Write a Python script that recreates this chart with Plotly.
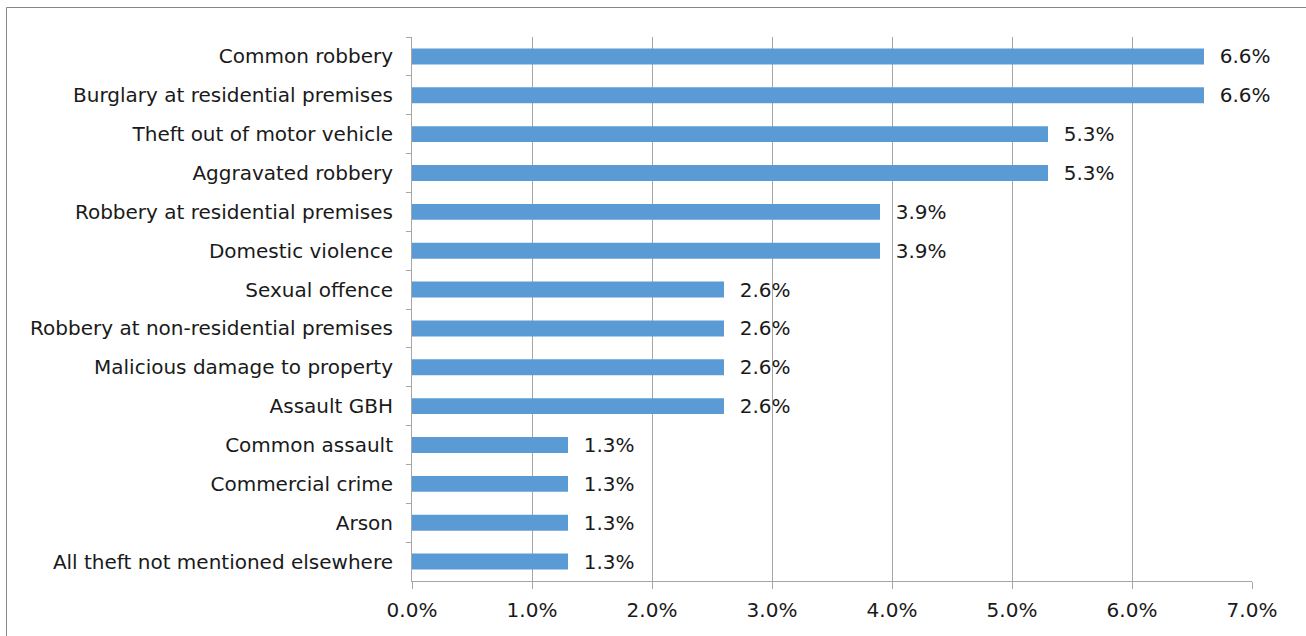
import plotly.graph_objects as go

categories = [
    "Common robbery",
    "Burglary at residential premises",
    "Theft out of motor vehicle",
    "Aggravated robbery",
    "Robbery at residential premises",
    "Domestic violence",
    "Sexual offence",
    "Robbery at non-residential premises",
    "Malicious damage to property",
    "Assault GBH",
    "Common assault",
    "Commercial crime",
    "Arson",
    "All theft not mentioned elsewhere",
]
values = [6.6, 6.6, 5.3, 5.3, 3.9, 3.9, 2.6, 2.6, 2.6, 2.6, 1.3, 1.3, 1.3, 1.3]
x_ticks = [0, 1, 2, 3, 4, 5, 6, 7]
x_tick_labels = [f"{v:.1f}%" for v in x_ticks]
value_labels = ["\u00a0\u00a0" + f"{v:.1f}%" for v in values]

FONT = "DejaVu Sans"
FS = 20
TXT = "#1a1a1a"
GRID = "#a6a6a6"

fig = go.Figure(
    go.Bar(
        y=categories,
        x=values,
        orientation="h",
        marker=dict(color="#5b9bd5", line=dict(width=0)),
        text=value_labels,
        textposition="outside",
        constraintext="none",
        textfont=dict(family=FONT, size=FS, color=TXT),
        cliponaxis=False,
    )
)

W, H = 1306, 636
L, R, T, B = 412, 54, 37, 55
pw, ph = W - L - R, H - T - B


def px_x(p):
    return (p - L) / pw


def px_y(p):
    return 1 - (p - T) / ph


fig.update_layout(
    width=W,
    height=H,
    margin=dict(l=L, r=R, t=T, b=B),
    plot_bgcolor="white",
    paper_bgcolor="white",
    showlegend=False,
    bargap=0.59,
    font=dict(family=FONT, size=FS, color=TXT),
    uniformtext=dict(mode=False),
    xaxis=dict(
        range=[0, 7],
        tickvals=x_ticks,
        ticktext=x_tick_labels,
        showgrid=True,
        gridcolor=GRID,
        gridwidth=1,
        zeroline=False,
        showline=True,
        linecolor=GRID,
        linewidth=1,
        ticks="outside",
        ticklen=7,
        tickcolor=GRID,
        ticklabelstandoff=4,
        tickfont=dict(family=FONT, size=FS, color=TXT),
        fixedrange=True,
    ),
    yaxis=dict(
        autorange="reversed",
        showgrid=False,
        zeroline=False,
        showline=True,
        linecolor=GRID,
        linewidth=1,
        ticks="outside",
        ticklen=5,
        tickcolor=GRID,
        tickson="boundaries",
        ticklabelstandoff=14,
        tickfont=dict(family=FONT, size=FS, color=TXT),
        fixedrange=True,
    ),
    shapes=[
        dict(
            type="rect",
            xref="paper",
            yref="paper",
            x0=px_x(6.5),
            x1=px_x(1320),
            y0=px_y(650),
            y1=px_y(7.5),
            line=dict(color="#868686", width=1),
            fillcolor="rgba(0,0,0,0)",
            layer="below",
        )
    ],
)

fig.write_html("out.html")
